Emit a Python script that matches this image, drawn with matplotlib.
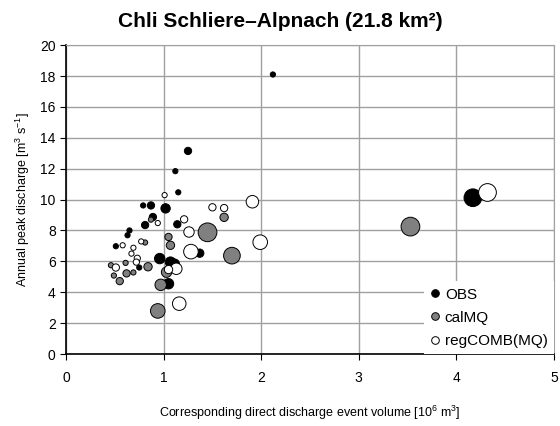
import matplotlib.pyplot as plt
from matplotlib.lines import Line2D

plt.rcParams['font.family'] = ['Liberation Sans', 'DejaVu Sans']
plt.rcParams['mathtext.default'] = 'regular'

# event volume [10^6 m3], peak discharge [m3/s], marker diameter [px]
obs_x = [2.12, 1.25, 1.12, 1.15, 0.79, 0.87, 1.02, 0.89, 0.81, 1.14,
         0.65, 0.63, 0.51, 1.37, 0.96, 1.07, 1.11, 0.75, 1.05, 4.17]
obs_y = [18.1, 13.15, 11.84, 10.47, 9.62, 9.62, 9.43, 8.87, 8.35, 8.4,
         8.0, 7.69, 6.98, 6.53, 6.18, 5.95, 5.82, 5.6, 4.55, 10.12]
obs_d = [5, 7, 5, 5, 5, 7, 9, 7, 7, 7, 5, 5, 5, 8, 10, 10, 10, 5, 10, 17]

cal_x = [1.62, 1.45, 0.87, 1.05, 1.07, 0.81, 1.70, 0.46, 0.61, 0.84,
         0.49, 0.62, 0.69, 0.55, 1.03, 0.97, 0.94, 3.53]
cal_y = [8.85, 7.88, 8.7, 7.58, 7.04, 7.22, 6.37, 5.75, 5.9, 5.65,
         5.08, 5.22, 5.28, 4.72, 5.3, 4.48, 2.79, 8.25]
cal_d = [8, 18, 5, 7, 8, 5, 16, 5, 5, 8, 5, 7, 5, 7, 10, 11, 14, 18]

reg_x = [1.01, 1.50, 1.62, 1.21, 0.94, 1.26, 0.58, 0.69, 0.77, 0.67,
         0.73, 0.72, 1.28, 0.51, 1.13, 1.05, 1.16, 1.91, 1.99, 4.32]
reg_y = [10.29, 9.5, 9.45, 8.72, 8.48, 7.9, 7.04, 6.88, 7.29, 6.5,
         6.2, 5.95, 6.63, 5.6, 5.52, 5.47, 3.26, 9.86, 7.24, 10.46]
reg_d = [5, 7, 7, 7, 5, 10, 5, 5, 5, 5, 6, 6, 14, 7, 11, 8, 13, 12, 14, 17]


def pts(d):
    # px diameter -> scatter area in pt^2 (dpi 100)
    return [(v * 0.75) ** 2 for v in d]


fig = plt.figure(figsize=(5.6, 4.26), dpi=100)
ax = fig.add_axes([0.118, 0.169, 0.871, 0.725])

ax.scatter(obs_x, obs_y, s=pts(obs_d), c='black', edgecolors='black', linewidths=0.7, zorder=3)
ax.scatter(cal_x, cal_y, s=pts(cal_d), c='#808080', edgecolors='black', linewidths=0.7, zorder=3)
ax.scatter(reg_x, reg_y, s=pts(reg_d), c='white', edgecolors='black', linewidths=0.7, zorder=3)

ax.set_xlim(0, 5)
ax.set_ylim(0, 20)
ax.set_xticks(range(0, 6))
ax.set_yticks(range(0, 21, 2))
ax.grid(True, color='#a0a0a0', linewidth=1)
ax.set_axisbelow(True)
for s in ['top', 'right']:
    ax.spines[s].set_color('#a0a0a0')
for s in ['left', 'bottom']:
    ax.spines[s].set_linewidth(1.2)
ax.tick_params(direction='out', length=4, labelsize=10)
ax.tick_params(axis='x', pad=8)

ax.set_xlabel(r'Corresponding direct discharge event volume [10$^6$ m$^3$]', fontsize=9, labelpad=14)
ax.set_ylabel(r'Annual peak discharge [m$^3$ s$^{-1}$]', fontsize=9, labelpad=6)
fig.suptitle('Chli Schliere\u2013Alpnach (21.8 km\u00b2)', x=0.5, y=0.972, fontsize=15, fontweight='bold')

handles = [Line2D([], [], ls='none', marker='o', ms=5.5, mfc=c, mec='black', mew=0.7)
           for c in ['black', '#808080', 'white']]
leg = ax.legend(handles, ['OBS', 'calMQ', 'regCOMB(MQ)'], loc='lower right',
                fontsize=11, frameon=True, framealpha=1, edgecolor='none',
                handlelength=0.6, handletextpad=0.35, labelspacing=0.6,
                borderaxespad=0.0, fancybox=False)

fig.savefig('out.png', dpi=100)
